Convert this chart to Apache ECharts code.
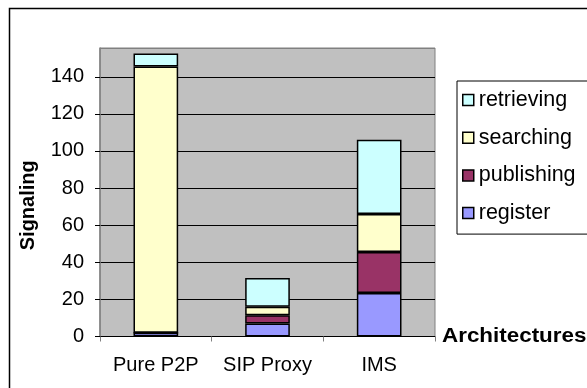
<!DOCTYPE html>
<html>
<head>
<meta charset="utf-8">
<script src="https://cdn.jsdelivr.net/npm/echarts@6/dist/echarts.min.js"></script>
<style>
  html, body { margin: 0; padding: 0; background: #fff; }
  #chart { width: 587px; height: 388px; }
</style>
</head>
<body>
<div id="chart"></div>
<script>
// Signaling load per architecture, split by operation type
const categories = ['Pure P2P', 'SIP Proxy', 'IMS'];
const register   = [2, 7, 23.5];
const publishing = [0, 4.5, 22];
const searching  = [143.5, 4.5, 20.5];
const retrieving = [7, 15.5, 40];
const yTicks = [0, 20, 40, 60, 80, 100, 120, 140];

const FONT = 'Liberation Sans, Arial, sans-serif';
const yMax = 155.5;
const yStep = 20;

// one black grid line per labelled tick, the top edge stays grey like the frame
const gridColors = yTicks.map(() => '#000').concat(['#808080']);

const seriesDefs = [
  { name: 'register',   data: register,   color: '#9999FF' },
  { name: 'publishing', data: publishing, color: '#993366' },
  { name: 'searching',  data: searching,  color: '#FFFFCC' },
  { name: 'retrieving', data: retrieving, color: '#CCFFFF' }
];

const chart = echarts.init(document.getElementById('chart'), null, { renderer: 'canvas' });

chart.setOption({
  animation: false,
  backgroundColor: '#fff',
  textStyle: { fontFamily: FONT },
  graphic: [
    {
      // outer chart frame
      type: 'rect',
      shape: { x: 9.5, y: 8.5, width: 700, height: 500 },
      style: { fill: 'none', stroke: '#000', lineWidth: 1.5 },
      silent: true,
      z: -10
    },
    {
      // category axis title, slightly widened
      type: 'text',
      x: 442, y: 336.5,
      scaleX: 1.12,
      style: {
        text: 'Architectures',
        font: 'bold 20px ' + FONT,
        fill: '#000',
        verticalAlign: 'middle',
        align: 'left'
      },
      silent: true
    }
  ],
  grid: {
    left: 100, right: 152, top: 48, bottom: 51.5,
    show: true, backgroundColor: '#C0C0C0', borderColor: '#808080', borderWidth: 1
  },
  legend: {
    orient: 'vertical',
    left: 457, top: 81,
    data: ['retrieving', 'searching', 'publishing', 'register'],
    icon: 'rect',
    itemWidth: 11, itemHeight: 11,
    itemGap: 15.7,
    padding: [8, 40, 10, 5],
    borderColor: '#000', borderWidth: 1,
    backgroundColor: '#fff',
    textStyle: { fontFamily: FONT, fontSize: 21.5, color: '#000', lineHeight: 22, padding: [0, 0, 0, 0] },
    itemStyle: { borderColor: '#000', borderWidth: 1.5 }
  },
  xAxis: {
    type: 'category',
    data: categories,
    axisLine: { lineStyle: { color: '#000', width: 1 } },
    axisTick: { show: true, length: 5, lineStyle: { color: '#808080' } },
    axisLabel: { fontFamily: FONT, fontSize: 20, color: '#000', margin: 19, interval: 0 },
    splitLine: { show: false }
  },
  yAxis: {
    type: 'value',
    min: 0, max: yMax, interval: yStep,
    name: 'Signaling',
    nameLocation: 'middle',
    nameGap: 62,
    nameRotate: 90,
    nameTextStyle: { fontFamily: FONT, fontSize: 20, fontWeight: 'bold', color: '#000', padding: [0, 26, 0, 0] },
    axisLine: { show: true, lineStyle: { color: '#808080', width: 1.5 } },
    axisTick: { show: true, length: 5, lineStyle: { color: '#000' } },
    axisLabel: { fontFamily: FONT, fontSize: 20, color: '#000', margin: 16, showMaxLabel: false },
    splitLine: { show: true, lineStyle: { color: gridColors, width: 1 } }
  },
  series: seriesDefs.map(s => ({
    name: s.name,
    type: 'bar',
    stack: 'total',
    barWidth: '40%',
    data: s.data,
    itemStyle: { color: s.color, borderColor: '#000', borderWidth: 1.5 }
  }))
});
</script>
</body>
</html>
